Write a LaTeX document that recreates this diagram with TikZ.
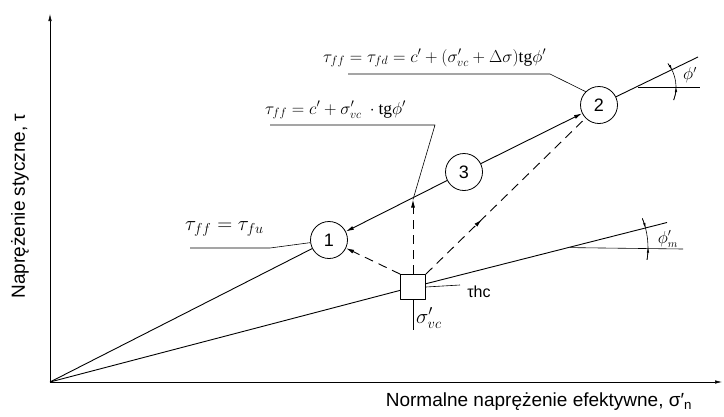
\documentclass[tikz,border=0pt]{standalone}
\usepackage{fontspec}
\setmainfont{Liberation Serif}
\newfontfamily\lsans{Liberation Sans}
\usetikzlibrary{arrows.meta,decorations.markings}
\begin{document}
\begin{tikzpicture}[x=1pt,y=-1pt, line join=round,
  ln/.style={line width=0.9pt},
  thn/.style={line width=0.6pt},
  dsh/.style={line width=0.9pt, dash pattern=on 9pt off 6pt},
  pnt/.style={circle, draw, line width=0.8pt, minimum size=37pt, inner sep=0pt, font=\lsans\fontsize{18}{18}\selectfont, fill=white},
  sqr/.style={rectangle, draw, line width=0.8pt, minimum size=25pt, inner sep=0pt, fill=white},
  tip/.style={-{Latex[length=8pt,width=4pt]}},
  axtip/.style={-{Latex[length=7pt,width=3.5pt]}},
  dimtip/.style={-{Latex[length=5pt,width=2.5pt]}},
  eq/.style={inner sep=0pt, font=\fontsize{17.5}{17.5}\selectfont},
  eqbig/.style={inner sep=0pt, font=\fontsize{22}{22}\selectfont},
  axlab/.style={inner sep=0pt, font=\lsans\fontsize{19}{19}\selectfont},
]
\useasboundingbox (0,0) rectangle (724,416);
% axes
\coordinate (O) at (50,382);
\coordinate (xe) at (722,382);
\coordinate (ye) at (50,14);
\draw[thn, axtip] (O) -- (xe);
\draw[thn, axtip] (O) -- (ye);
\node[axlab] (xl) at (539,402) {Normalne naprężenie efektywne, σ′\textsubscript{n}};
\node[axlab, rotate=90] (yl) at (20,206) {Naprężenie styczne, τ};
% points
\node[pnt] (c1) at (329,240) {1};
\node[pnt] (c3) at (464,172) {3};
\node[pnt] (c2) at (599,105) {2};
\node[sqr] (sq) at (413,287) {};
% failure envelope (upper line)
\coordinate (U) at (698,57);
\coordinate (P3) at (413,199.5);
\draw[ln] (O) -- (c1);
\draw[ln, tip] (c3) -- (c1);
\draw[ln, tip] (c3) -- (c2);
\draw[ln] (c2) -- (U);
% lower line
\coordinate (L) at (667,222.5);
\draw[ln] (O) -- (sq);
\draw[ln] (sq) -- (L);
% angle phi'
\coordinate (H) at (638,87);
\draw[thn] (H) -- (700,87);
\draw[thn] (H) ++(20:38) arc[start angle=20, end angle=-38, radius=38];
\draw[thn, dimtip] (H) ++(20:38) arc[start angle=20, end angle=0, radius=38];
\draw[thn, dimtip] (H) ++(-38:38) arc[start angle=-38, end angle=-26.6, radius=38];
\node[inner sep=0pt, font=\fontsize{16}{16}\selectfont] (phi) at (690,75) {$\phi'$};
% angle phi'_m
\coordinate (K) at (570,247.6);
\draw[thn] (K) -- (683,249);
\draw[thn] (K) ++(9:78) arc[start angle=9, end angle=-22, radius=78];
\draw[thn, dimtip] (K) ++(9:78) arc[start angle=9, end angle=0, radius=78];
\draw[thn, dimtip] (K) ++(-22:78) arc[start angle=-22, end angle=-14.5, radius=78];
\node[inner sep=0pt, font=\fontsize{16}{16}\selectfont] (phim) at (668,239) {$\phi'_m$};
% stress paths
\draw[dsh, tip] (sq.north west) -- (c1);
\draw[dsh, tip] (sq.north) -- (P3);
\draw[dsh, postaction={decorate}, decoration={markings, mark=at position 0.35 with {\arrow{Latex[length=8pt,width=4pt]}}}] (sq.north east) -- (c2);
% tau_hc and sigma'_vc
\coordinate (thc) at (460,285);
\draw[thn] (sq.east) -- (thc);
\node[inner sep=0pt, font=\lsans\fontsize{16}{16}\selectfont] (thcl) at (479,292) {τhc};
\coordinate (svc) at (413,330);
\draw[thn] (sq.south) -- (svc);
\node[eqbig, anchor=west] (svcl) at (416,318) {$\sigma'_{vc}$};
% labels with leaders
\node[eq, anchor=base west] (f1) at (323,62) {$\tau_{ff}=\tau_{fd}=c'+(\sigma'_{vc}+\Delta\sigma)\mathrm{tg}\phi'$};
\coordinate (f1a) at (348,74);
\coordinate (f1b) at (550,74);
\draw[thn] (f1a) -- (f1b) -- (c2.135);
\node[eq, anchor=base west] (f2) at (265,114) {$\tau_{ff}=c'+\sigma'_{vc}\ \cdot\mathrm{tg}\phi'$};
\coordinate (f2a) at (270,125);
\coordinate (f2b) at (435,125);
\draw[thn] (f2a) -- (f2b) -- (P3);
\node[eqbig, anchor=base west] (f3) at (185,230) {$\tau_{ff}=\tau_{fu}$};
\coordinate (f3a) at (190,248);
\coordinate (f3b) at (270,248);
\draw[thn] (f3a) -- (f3b) -- (c1.188);
\end{tikzpicture}
\end{document}
